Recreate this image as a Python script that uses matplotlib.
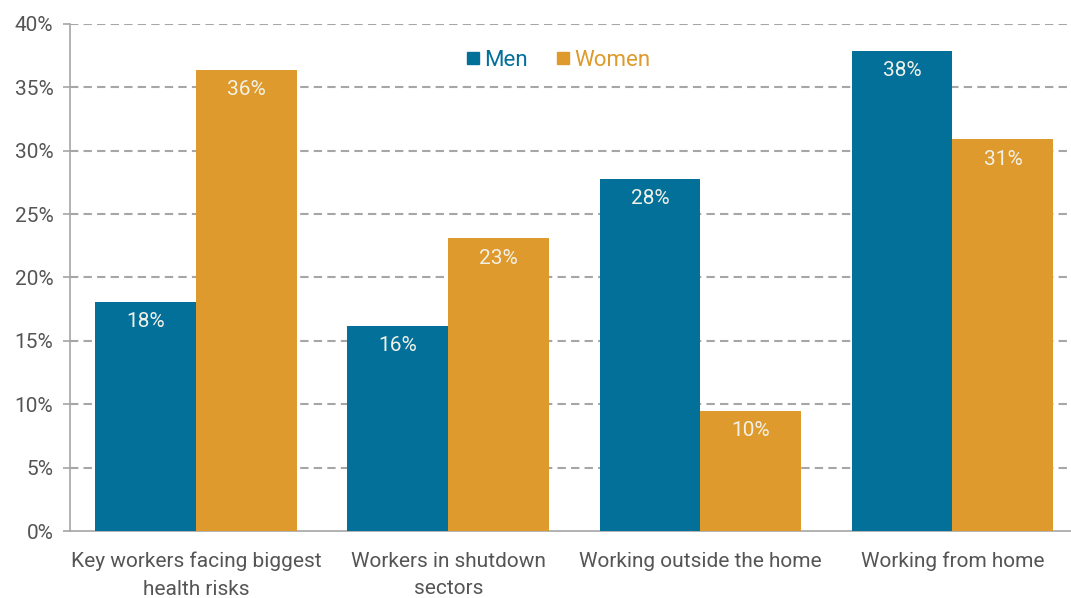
import matplotlib
matplotlib.use("Agg")
import matplotlib.pyplot as plt
import numpy as np
from matplotlib.lines import Line2D

plt.rcParams['font.family'] = ['Roboto', 'DejaVu Sans']

categories = ["Key workers facing biggest\nhealth risks", "Workers in shutdown\nsectors",
              "Working outside the home", "Working from home"]
men = [18.1, 16.2, 27.8, 37.9]
women = [36.4, 23.1, 9.5, 30.9]
series_names = ["Men", "Women"]
yticks = [0, 5, 10, 15, 20, 25, 30, 35, 40]

BLUE = "#03709a"
ORANGE = "#de9a2c"
GRID = "#a6a6a6"
TEXT = "#555555"

fig = plt.figure(figsize=(10.71, 5.98), dpi=100)
ax = fig.add_axes([0.0654, 0.112, 0.9346, 0.848])

x = np.arange(len(categories))
w = 0.4
b1 = ax.bar(x - w / 2, men, w, color=BLUE, zorder=3)
b2 = ax.bar(x + w / 2, women, w, color=ORANGE, zorder=3)

for bars, vals in ((b1, men), (b2, women)):
    for rect, v in zip(bars, vals):
        ax.annotate(f"{v:.0f}%", (rect.get_x() + rect.get_width() / 2, v),
                    xytext=(0, -14.5), textcoords="offset points", ha="center", va="center",
                    color="#f2f1e8", fontsize=15, zorder=4)

ax.set_xlim(-0.5, 3.47)
ax.set_ylim(0, 40)
ax.set_yticks(yticks)
ax.set_yticklabels([f"{t}%" for t in yticks], fontsize=15, color=TEXT)
ax.set_xticks(x)
ax.set_xticklabels(categories, fontsize=15, color=TEXT, linespacing=1.55)
ax.tick_params(axis="x", length=0, pad=15)
ax.tick_params(axis="y", length=5, width=1.2, color=GRID, pad=7)

for t in yticks[1:]:
    ax.axhline(t, color=GRID, lw=1.5, ls=(0, (4, 2.5)), zorder=1)

for s in ("top", "right"):
    ax.spines[s].set_visible(False)
ax.spines["left"].set_color(GRID)
ax.spines["left"].set_linewidth(1.2)
ax.spines["bottom"].set_color(GRID)
ax.spines["bottom"].set_linewidth(1.2)

handles = [Line2D([], [], marker="s", ls="", color=c, markersize=8) for c in (BLUE, ORANGE)]
leg = ax.legend(handles, series_names, loc="center", bbox_to_anchor=(0.487, 0.928),
                ncol=2, frameon=False, fontsize=16, handletextpad=0.1, columnspacing=1.2,
                handlelength=0.8)
for txt, c in zip(leg.get_texts(), (BLUE, ORANGE)):
    txt.set_color(c)

fig.savefig("out.png", dpi=100, facecolor="white")
